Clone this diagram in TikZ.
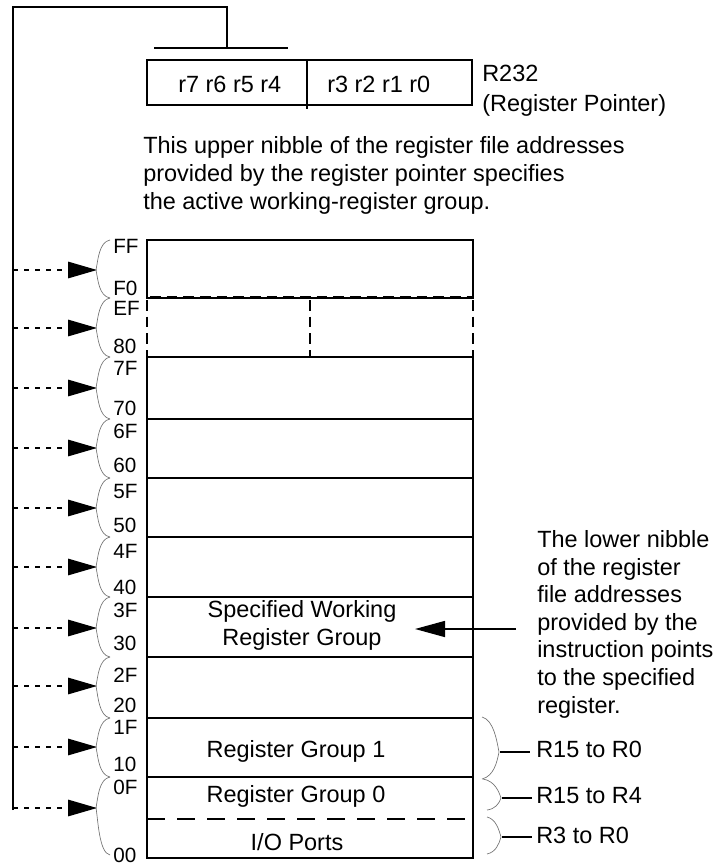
\documentclass[tikz,border=0pt]{standalone}
\usepackage{fontspec}
\setmainfont{Liberation Sans}
\usetikzlibrary{arrows.meta}
\begin{document}
\begin{tikzpicture}[x=0.75pt,y=-0.75pt,
  line/.style={line width=1.1pt},
  bracepath/.style={draw=black!55, line width=0.5pt},
  txt/.style={inner sep=0pt, font=\fontsize{17.6pt}{20.7pt}\selectfont},
  lbl/.style={inner sep=0pt, font=\fontsize{15.5pt}{17pt}\selectfont},
  ptr/.style={line width=1pt, dash pattern=on 3.75pt off 4.5pt, -{Triangle[length=21.75pt,width=12.4pt]}},
  rowdash/.style={line width=1.1pt, dash pattern=on 8pt off 4.5pt},
]
\useasboundingbox (0,0) rectangle (719,867);

% outer loop from the register pointer
\coordinate (loopbot) at (13,810);
\coordinate (looptl) at (13,7);
\coordinate (looptr) at (227,7);
\coordinate (barmid) at (227,48);
\coordinate (barl) at (154,48);
\coordinate (barr) at (288,48);
\draw[line] (loopbot) -- (looptl) -- (looptr) -- (barmid);
\draw[line] (barl) -- (barr);

% R232 box
\draw[line] (147,60) rectangle (472,105);
\draw[line] (307,60) -- (307,109);
\node[txt, anchor=base west] (hi) at (178,93) {r7 r6 r5 r4};
\node[txt, anchor=base west] (lo) at (327,93) {r3 r2 r1 r0};
\node[txt, anchor=base west] (rp1) at (482,82) {R232};
\node[txt, anchor=base west] (rp2) at (482,111) {(Register Pointer)};

% multi-line nodes: base anchor = baseline of the last line
\node[txt, anchor=base west, align=left] (upper) at (143,209)
  {This upper nibble of the register file addresses\\provided by the register pointer specifies\\the active working-register group.};

% register file
\draw[line] (147,240) rectangle (473,298);
\draw[line] (147,357) -- (147,858) -- (473,858) -- (473,357);
\foreach \y in {357,419,478,537,597,657,718,777}
  \draw[line] (147,\y) -- (473,\y);
\draw[rowdash] (147,300) -- (147,357);
\draw[rowdash] (473,300) -- (473,357);
\draw[rowdash] (310,300) -- (310,357);
\draw[line width=1.6pt, dash pattern=on 8pt off 4.5pt] (150,297.5) -- (473,297.5);
\draw[line width=1.1pt, dash pattern=on 13.5pt off 9pt] (147,819) -- (473,819);

\node[txt, anchor=base, align=center] (swrg) at (302,645) {Specified Working\\Register Group};
\node[txt, anchor=base] (rg1) at (296,757) {Register Group 1};
\node[txt, anchor=base] (rg0) at (296,802) {Register Group 0};
\node[txt, anchor=base] (io) at (297,850) {I/O Ports};

% left braces, labels and pointer arrows
\foreach \t/\b/\m/\tl/\bl/\tb/\bb/\i in {
    240/298/270/FF/F0/253/295/1,
    298/357/328/EF/80/315/353/2,
    357/419/388/7F/70/375/415/3,
    419/478/448/6F/60/438/472/4,
    478/537/508/5F/50/498/532/5,
    537/597/567/4F/40/558/594/6,
    597/657/628/3F/30/617/650/7,
    657/718/686/2F/20/682/712/8,
    718/777/747/1F/10/734/771/9}{
  \draw[bracepath] (110,\t) .. controls (99,\t+2) and (98,\m-10) .. (96,\m)
     .. controls (98,\m+10) and (99,\b-2) .. (110,\b);
  \coordinate (src\i) at (13,\m);
  \coordinate (tip\i) at (97,\m);
  \draw[ptr] (src\i) -- (tip\i);
  \node[lbl, anchor=base west] (top\i) at (113,\tb) {\tl};
  \node[lbl, anchor=base west] (bot\i) at (113,\bb) {\bl};
}
\draw[bracepath] (110,777) .. controls (99,779) and (98,797) .. (96,808)
   .. controls (98,819) and (99,853) .. (110,855);
\coordinate (src10) at (13,808);
\coordinate (tip10) at (97,808);
\draw[ptr] (src10) -- (tip10);
\node[lbl, anchor=base west] (top10) at (113,794) {0F};
\node[lbl, anchor=base west] (bot10) at (113,862) {00};

% lower nibble note and arrow
\node[txt, anchor=base west, align=left] (lower) at (537,713)
  {The lower nibble\\of the register\\file addresses\\provided by the\\instruction points\\to the specified\\register.};
\coordinate (la) at (516,629);
\coordinate (lb) at (415,629);
\draw[line width=1.1pt, -{Triangle[length=22.5pt,width=12pt]}] (la) -- (lb);

% right braces
\draw[bracepath] (482,717) .. controls (494,720) and (497,742) .. (499,752)
   .. controls (497,762) and (494,776) .. (482,779);
\draw[bracepath] (483,779) .. controls (495,781) and (499,792) .. (501,798)
   .. controls (499,804) and (495,809) .. (487,810);
\draw[bracepath] (487,817) .. controls (496,819) and (499,830) .. (501,837)
   .. controls (499,844) and (496,852) .. (487,854);
\coordinate (rb1) at (500,752);
\coordinate (rb2) at (502,798);
\coordinate (rb3) at (502,837);
\coordinate (re1) at (530,752);
\coordinate (re2) at (532,798);
\coordinate (re3) at (532,837);
\node[txt, anchor=base west] (r1) at (536,757) {R15 to R0};
\node[txt, anchor=base west] (r2) at (536,803) {R15 to R4};
\node[txt, anchor=base west] (r3) at (536,843) {R3 to R0};
\draw[line] (rb1) -- (re1);
\draw[line] (rb2) -- (re2);
\draw[line] (rb3) -- (re3);
\end{tikzpicture}
\end{document}
